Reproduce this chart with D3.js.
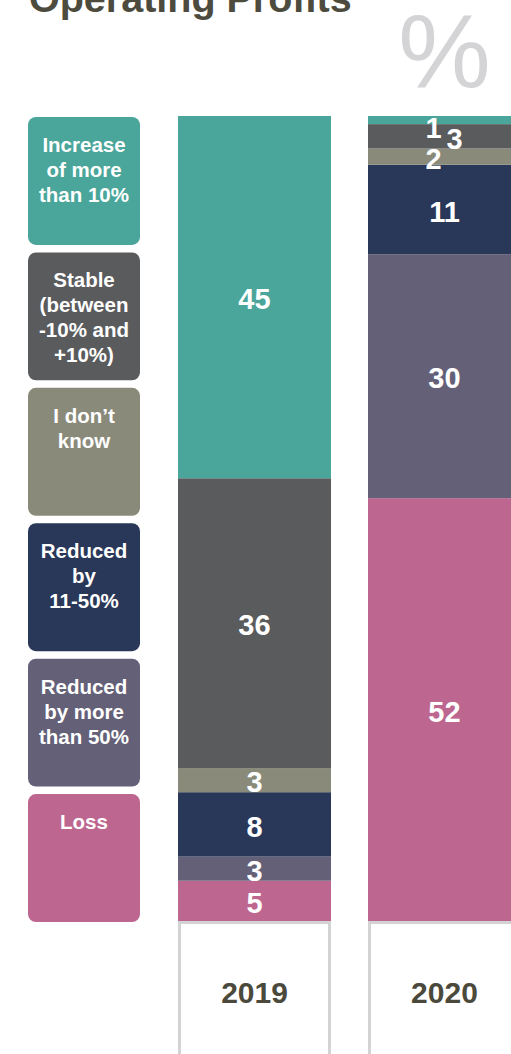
<!DOCTYPE html>
<html>
<head>
<meta charset="utf-8">
<script src="https://cdn.jsdelivr.net/npm/d3@7"></script>
<style>
  html, body { margin: 0; padding: 0; background: #fff; overflow: hidden; }
  svg { display: block; font-family: "Liberation Sans", Arial, sans-serif; }
</style>
</head>
<body>
<div id="container"></div>
<script>
// data, top of legend first (stack is drawn bottom-up from the end)
const years = ["2019", "2020"];
const categories = ["Increase of more than 10%", "Stable (between -10% and +10%)", "I don\u2019t know",
                    "Reduced by 11-50%", "Reduced by more than 50%", "Loss"];
const legendLines = [
  ["Increase", "of more", "than 10%"],
  ["Stable", "(between", "-10% and", "+10%)"],
  ["I don\u2019t", "know"],
  ["Reduced", "by", "11-50%"],
  ["Reduced", "by more", "than 50%"],
  ["Loss"]
];
const values2019 = [45, 36, 3, 8, 3, 5];
const values2020 = [1, 3, 2, 11, 30, 52];
const colors = ["#4aa59a", "#5a5b5d", "#8a8a7b", "#293758", "#646078", "#bd6690"];

const width = 511, height = 1054;
const barTop = 116, barBottom = 921;

const rows = years.map(function(y, i) {
  const vals = i === 0 ? values2019 : values2020;
  const r = { year: y };
  categories.forEach(function(c, j) { r[c] = vals[j]; });
  return r;
});

const svg = d3.select('#container')
  .append('svg')
  .attr('width', width)
  .attr('height', height);

// title, partly cut off at top
svg.append('text')
  .attr('x', 29)
  .attr('y', 12)
  .style('font-size', '39.5px')
  .style('font-weight', 'bold')
  .attr('fill', '#4d4b3e')
  .text('Operating Profits');

// scales
const x = d3.scaleBand()
  .domain(years)
  .range([178, 521])
  .paddingInner(0.1947);
const y = d3.scaleLinear()
  .domain([0, 1])
  .range([barBottom, barTop]);
const color = d3.scaleOrdinal()
  .domain(categories)
  .range(colors);

// big % sign above 2020
svg.append('text')
  .attr('x', x('2020') + x.bandwidth() / 2)
  .attr('y', 87)
  .attr('text-anchor', 'middle')
  .style('font-size', '104px')
  .attr('fill', '#d4d4d6')
  .text('%');

// stack from bottom (Loss) to top
const stack = d3.stack()
  .keys(categories.slice().reverse())
  .offset(d3.stackOffsetExpand);
const series = stack(rows);

const groups = svg.selectAll('g.series')
  .data(series)
  .enter()
  .append('g')
  .attr('class', 'series')
  .attr('fill', function(d) { return color(d.key); });

groups.selectAll('rect')
  .data(function(d) { return d; })
  .enter()
  .append('rect')
  .attr('x', function(d) { return x(d.data.year); })
  .attr('y', function(d) { return y(d[1]); })
  .attr('width', x.bandwidth())
  .attr('height', function(d) { return y(d[0]) - y(d[1]); });

// labels; small neighbouring segments get nudged left/right
years.forEach(function(yr, i) {
  const segs = categories.map(function(c) {
    const s = series.find(function(se) { return se.key === c; })[i];
    return { key: c, value: rows[i][c], y0: y(s[1]), y1: y(s[0]) };
  });
  const small = segs.map(function(s) { return (s.y1 - s.y0) < 30; });
  let run = 0;
  segs.forEach(function(s, j) {
    const inRun = small[j] && ((j > 0 && small[j - 1]) || (j < segs.length - 1 && small[j + 1]));
    let dx = 0;
    if (inRun) { dx = run % 2 === 0 ? -11 : 10; run++; } else { run = 0; }
    // keep the label inside the top of the bar
    const cy = Math.max((s.y0 + s.y1) / 2, barTop + 10);
    svg.append('text')
      .attr('x', x(yr) + x.bandwidth() / 2 + dx)
      .attr('y', cy)
      .attr('dy', '0.42em')
      .attr('text-anchor', 'middle')
      .style('font-size', '29px')
      .style('font-weight', 'bold')
      .attr('fill', '#fff')
      .text(s.value);
  });
});

// year boxes below the bars
const yearBox = svg.selectAll('g.year')
  .data(years)
  .enter()
  .append('g')
  .attr('class', 'year');
yearBox.append('rect')
  .attr('x', function(d) { return x(d) + 1.5; })
  .attr('y', barBottom + 1.5)
  .attr('width', x.bandwidth() - 3)
  .attr('height', 200)
  .attr('fill', '#fff')
  .attr('stroke', '#d3d3d3')
  .attr('stroke-width', 3);
yearBox.append('text')
  .attr('x', function(d) { return x(d) + x.bandwidth() / 2; })
  .attr('y', 1003)
  .attr('text-anchor', 'middle')
  .style('font-size', '30px')
  .style('font-weight', 'bold')
  .attr('fill', '#4b493c')
  .text(function(d) { return d; });

// legend boxes on the left
const ly = d3.scaleBand()
  .domain(categories)
  .range([117, 922])
  .paddingInner(0.055);
const legend = svg.selectAll('g.legend')
  .data(categories)
  .enter()
  .append('g')
  .attr('class', 'legend')
  .attr('transform', function(d) { return 'translate(28,' + ly(d) + ')'; });
legend.append('rect')
  .attr('width', 112)
  .attr('height', ly.bandwidth())
  .attr('rx', 8)
  .attr('fill', function(d) { return color(d); });
legend.append('text')
  .attr('text-anchor', 'middle')
  .style('font-size', '20.5px')
  .style('font-weight', 'bold')
  .attr('fill', '#fff')
  .selectAll('tspan')
  .data(function(d, i) { return legendLines[i]; })
  .enter()
  .append('tspan')
  .attr('x', 56)
  .attr('y', function(d, i) { return 35 + i * 25; })
  .text(function(d) { return d; });
</script>
</body>
</html>
